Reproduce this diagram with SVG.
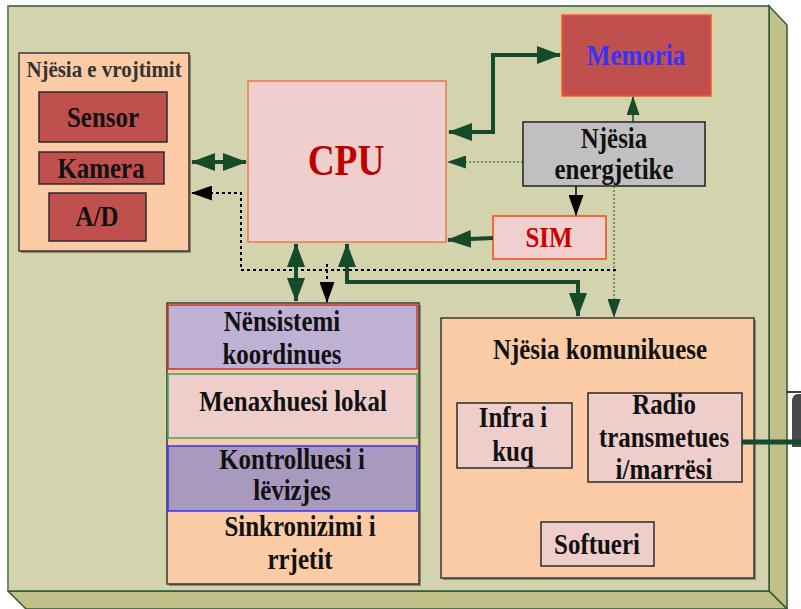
<svg xmlns="http://www.w3.org/2000/svg" width="801" height="609" viewBox="0 0 801 609">
  <style>
    .t { font-family: "Liberation Serif", "Times New Roman", serif; font-weight: bold; font-size: 29px; fill: #111; text-anchor: middle; }
    .panel { fill: #FACBA5; stroke: #3a3a3a; stroke-width: 1.5; }
    .shadow { fill: #8a8a6e; }
    .red { fill: #C0504D; stroke: #2a2a2a; stroke-width: 1.5; }
    .pink { fill: #EFCDCB; stroke: #2a2a2a; stroke-width: 1.5; }
    .thick { fill: none; stroke: #174A2A; stroke-width: 4; }
    .gdot { fill: none; stroke: #174A2A; stroke-width: 1; stroke-dasharray: 2 2; }
    .kdot { fill: none; stroke: #000; stroke-width: 2; stroke-dasharray: 3 3; }
  </style>
  <defs>
    <marker id="ah-green" markerUnits="userSpaceOnUse" markerWidth="24" markerHeight="18" refX="23" refY="9" orient="auto-start-reverse">
      <path d="M0,0 L24,9 L0,18 z" fill="#174A2A"/>
    </marker>
    <marker id="ah-green-s" markerUnits="userSpaceOnUse" markerWidth="19" markerHeight="13" refX="18" refY="6.5" orient="auto">
      <path d="M0,0 L19,6.5 L0,13 z" fill="#174A2A"/>
    </marker>
    <marker id="ah-black" markerUnits="userSpaceOnUse" markerWidth="21" markerHeight="15" refX="20" refY="7.5" orient="auto">
      <path d="M0,0 L21,7.5 L0,15 z" fill="#000"/>
    </marker>
  </defs>

  <rect width="801" height="609" fill="#fff"/>

  <!-- board body: front face with right and bottom depth faces -->
  <g id="board">
    <polygon points="769,6 787,25 787,609 769,591" fill="#C0C088" stroke="#2E5A3A" stroke-width="1.5"/>
    <polygon points="8,591 769,591 787,609 26,609" fill="#C0C088" stroke="#2E5A3A" stroke-width="1.5"/>
    <rect x="8" y="6" width="761" height="585" fill="#D3D3AE" stroke="#2E5A3A" stroke-width="1.5"/>
    <line x1="8" y1="6" x2="8" y2="591" stroke="#6E8C6E" stroke-width="2"/>
  </g>

  <!-- partly visible external unit on the right -->
  <g id="external">
    <line x1="787" y1="392" x2="801" y2="392" stroke="#000" stroke-width="1.5"/>
    <path d="M801,394 L798,394 Q792,394 792,402 L792,447 L801,447 z" fill="#4a4a4a"/>
  </g>

  <!-- observation unit -->
  <g id="observation">
    <rect x="21" y="55" width="170" height="198" class="shadow"/>
    <rect x="19" y="53" width="170" height="198" class="panel"/>
    <text class="t" style="font-size:23px; fill:#333" transform="translate(104,77) scale(0.91,1)">Njësia e vrojtimit</text>
    <g id="sensor">
      <rect x="39" y="92" width="128" height="50" class="red"/>
      <text class="t" transform="translate(103,127) scale(0.86,1)">Sensor</text>
    </g>
    <g id="kamera">
      <rect x="39" y="152" width="125" height="32" class="red"/>
      <text class="t" transform="translate(101,178) scale(0.86,1)">Kamera</text>
    </g>
    <g id="ad">
      <rect x="49" y="193" width="97" height="48" class="red"/>
      <text class="t" transform="translate(97,226) scale(0.86,1)">A/D</text>
    </g>
  </g>

  <!-- processor -->
  <g id="cpu">
    <rect x="248" y="81" width="198" height="161" fill="#EFCFCD" stroke="#F07850" stroke-width="1.5"/>
    <text class="t" style="font-size:45px; fill:#C00000" transform="translate(346,175) scale(0.83,1)">CPU</text>
  </g>

  <!-- memory -->
  <g id="memoria">
    <rect x="562" y="15" width="149" height="81" fill="#C0504D" stroke="#FF5522" stroke-width="1.5"/>
    <text class="t" style="fill:#3333FF" transform="translate(636,65) scale(0.86,1)">Memoria</text>
  </g>

  <!-- power unit -->
  <g id="energy">
    <rect x="523" y="122" width="182" height="64" fill="#C0C0C0" stroke="#222" stroke-width="1.5"/>
    <text class="t" transform="translate(614,148) scale(0.86,1)">Njësia</text>
    <text class="t" transform="translate(614,179) scale(0.86,1)">energjetike</text>
  </g>

  <!-- SIM -->
  <g id="sim">
    <rect x="493" y="216" width="113" height="43" fill="#F2CFCF" stroke="#FF4411" stroke-width="1.5"/>
    <text class="t" style="fill:#CC0000" transform="translate(549,247) scale(0.86,1)">SIM</text>
  </g>

  <!-- subsystem stack -->
  <g id="subsystems">
    <rect x="169" y="305" width="252" height="281" class="shadow"/>
    <rect x="167" y="303" width="252" height="281" class="panel"/>
    <g id="koordinues">
      <rect x="168" y="305" width="249" height="64" fill="#BFB1D4" stroke="#CC3333" stroke-width="1.5"/>
      <text class="t" transform="translate(282,331) scale(0.86,1)">Nënsistemi</text>
      <text class="t" transform="translate(282,364) scale(0.86,1)">koordinues</text>
    </g>
    <g id="menaxhuesi">
      <rect x="168" y="374" width="249" height="64" fill="#EFCDCB" stroke="#33AA55" stroke-width="1.5"/>
      <text class="t" transform="translate(293,411) scale(0.86,1)">Menaxhuesi lokal</text>
    </g>
    <g id="kontrolluesi">
      <rect x="168" y="446" width="249" height="65" fill="#A899BF" stroke="#3333FF" stroke-width="1.5"/>
      <text class="t" transform="translate(292,469) scale(0.86,1)">Kontrolluesi i</text>
      <text class="t" transform="translate(292,500) scale(0.86,1)">lëvizjes</text>
    </g>
    <g id="sinkronizimi">
      <text class="t" transform="translate(300,536) scale(0.86,1)">Sinkronizimi i</text>
      <text class="t" transform="translate(300,569) scale(0.86,1)">rrjetit</text>
    </g>
  </g>

  <!-- communication unit -->
  <g id="communication">
    <rect x="443" y="320" width="313" height="260" class="shadow"/>
    <rect x="441" y="318" width="313" height="260" class="panel"/>
    <text class="t" transform="translate(600,359) scale(0.86,1)">Njësia komunikuese</text>
    <g id="infra">
      <rect x="457" y="403" width="115" height="65" class="pink"/>
      <text class="t" transform="translate(513,427) scale(0.86,1)">Infra i</text>
      <text class="t" transform="translate(513,461) scale(0.86,1)">kuq</text>
    </g>
    <g id="radio">
      <rect x="588" y="393" width="154" height="89" class="pink"/>
      <text class="t" transform="translate(664,414) scale(0.86,1)">Radio</text>
      <text class="t" transform="translate(664,447) scale(0.86,1)">transmetues</text>
      <text class="t" transform="translate(664,479) scale(0.86,1)">i/marrësi</text>
    </g>
    <g id="softueri">
      <rect x="541" y="522" width="113" height="44" class="pink"/>
      <text class="t" transform="translate(597,554) scale(0.86,1)">Softueri</text>
    </g>
  </g>

  <!-- connectors -->
  <g id="connectors">
    <!-- observation unit <-> CPU -->
    <line x1="192" y1="162" x2="246" y2="162" class="thick" marker-start="url(#ah-green)" marker-end="url(#ah-green)"/>
    <!-- CPU <-> memory -->
    <polyline points="449,132 493,132 493,55 560,55" class="thick" marker-start="url(#ah-green)" marker-end="url(#ah-green)"/>
    <!-- power -> CPU -->
    <line x1="523" y1="162" x2="448" y2="162" class="gdot" marker-end="url(#ah-green-s)"/>
    <!-- power -> memory -->
    <line x1="633" y1="122" x2="633" y2="97" stroke="#174A2A" stroke-width="1.5" marker-end="url(#ah-green-s)"/>
    <!-- power -> SIM -->
    <line x1="576" y1="186" x2="576" y2="215" stroke="#000" stroke-width="1.5" marker-end="url(#ah-black)"/>
    <!-- SIM -> CPU -->
    <line x1="493" y1="238" x2="448" y2="240" class="thick" marker-end="url(#ah-green)"/>
    <!-- power -> communication unit -->
    <line x1="614" y1="186" x2="614" y2="317" class="gdot" marker-end="url(#ah-green-s)"/>
    <!-- control bus (dotted) -->
    <polyline points="616,270 241,270 241,193 192,193" class="kdot" marker-end="url(#ah-black)"/>
    <line x1="327" y1="264" x2="327" y2="302" class="kdot" marker-end="url(#ah-black)"/>
    <!-- CPU <-> subsystems -->
    <line x1="296" y1="244" x2="296" y2="301" class="thick" marker-start="url(#ah-green)" marker-end="url(#ah-green)"/>
    <!-- CPU <-> communication unit -->
    <polyline points="347,244 347,282 578,282 578,316" class="thick" marker-start="url(#ah-green)" marker-end="url(#ah-green)"/>
    <!-- radio -> external -->
    <line x1="742" y1="442" x2="801" y2="442" stroke="#174A2A" stroke-width="5"/>
  </g>
</svg>
